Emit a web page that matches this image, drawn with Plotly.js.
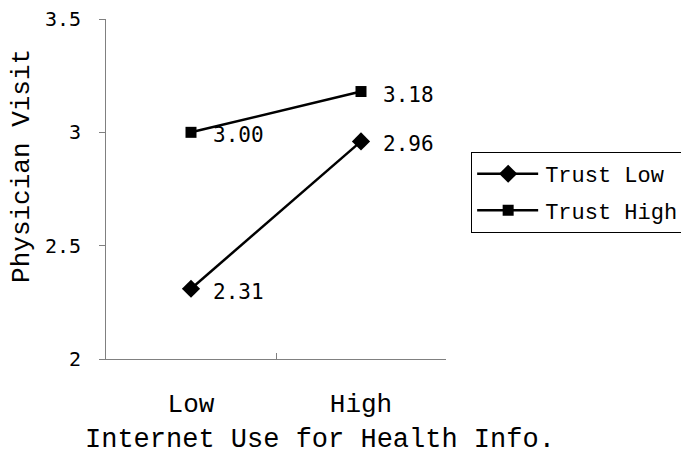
<!DOCTYPE html>
<html>
<head>
<meta charset="utf-8">
<script src="https://cdn.plot.ly/plotly-3.0.1.min.js"></script>
<style>html,body{margin:0;padding:0;background:#fff;}#chart{width:681px;height:455px;}</style>
</head>
<body>
<div id="chart"></div>
<script>
var categories = ["Low", "High"];
var trustLow = [2.31, 2.96];
var trustHigh = [3.00, 3.18];
var seriesNames = ["Trust Low", "Trust High"];
var yTicks = [2, 2.5, 3, 3.5];
var yTickLabels = ["2", "2.5", "3", "3.5"];
var xTitle = "Internet Use for Health Info.";
var yTitle = "Physician Visit";

var textFont = "Liberation Mono, DejaVu Sans Mono, monospace";
var numFont = "DejaVu Sans Mono, Liberation Mono, monospace";

var traces = [
  {x: categories, y: trustLow, name: seriesNames[0], legendgroup: "a", mode: "lines+markers", type: "scatter",
   line: {color: "#000", width: 2.5}, marker: {symbol: "diamond", size: 14, color: "#000"}},
  {x: categories, y: trustHigh, name: seriesNames[1], legendgroup: "b", mode: "lines+markers", type: "scatter",
   line: {color: "#000", width: 2.5}, marker: {symbol: "square", size: 11, color: "#000"}}
];

var annotations = [];
[trustLow, trustHigh].forEach(function (s) {
  s.forEach(function (v, i) {
    annotations.push({x: categories[i], y: v, text: v.toFixed(2), showarrow: false,
      xanchor: "left", yanchor: "middle", xshift: 20, yshift: -3,
      font: {family: numFont, size: 21, color: "#000"}});
  });
});
annotations.push({xref: "paper", yref: "paper", x: 0.629, y: -0.238, xanchor: "center", yanchor: "middle",
  text: xTitle, showarrow: false, font: {family: textFont, size: 27, color: "#000"}});
annotations.push({xref: "paper", yref: "paper", x: -0.247, y: 0.568, xanchor: "center", yanchor: "middle",
  text: yTitle, textangle: -90, showarrow: false, font: {family: textFont, size: 26, color: "#000"}});

var layout = {
  width: 681, height: 455,
  margin: {l: 106, r: 235, t: 19, b: 96, autoexpand: false},
  paper_bgcolor: "#fff", plot_bgcolor: "#fff",
  showlegend: true,
  legend: {x: 1.074, y: 0.609, xanchor: "left", yanchor: "top",
    bordercolor: "#000", borderwidth: 1, bgcolor: "#fff", itemwidth: 63,
    font: {family: textFont, size: 22, color: "#000"}, tracegroupgap: 5},
  xaxis: {type: "category", range: [-0.5, 1.5], tickson: "boundaries",
    ticks: "inside", ticklen: 6, tickcolor: "#808080",
    showline: true, linecolor: "#808080", linewidth: 1, showgrid: false, zeroline: false,
    tickfont: {family: textFont, size: 26, color: "#000"}, ticklabelstandoff: 21},
  yaxis: {range: [2, 3.5], tickvals: yTicks, ticktext: yTickLabels,
    ticks: "outside", ticklen: 6, tickcolor: "#808080",
    showline: true, linecolor: "#808080", linewidth: 1, showgrid: false, zeroline: false,
    tickfont: {family: numFont, size: 20, color: "#000"}, ticklabelstandoff: 14},
  annotations: annotations
};

Plotly.newPlot("chart", traces, layout, {displayModeBar: false, staticPlot: true}).then(function (gd) {
  // widen legend sample lines to match the reference legend
  gd.querySelectorAll(".legend .legendlines path").forEach(function (p) { p.setAttribute("d", "M5,0h61"); });
  gd.querySelectorAll(".legend .legendpoints path").forEach(function (p) { p.setAttribute("transform", "translate(36,0)"); });
});
</script>
</body>
</html>
